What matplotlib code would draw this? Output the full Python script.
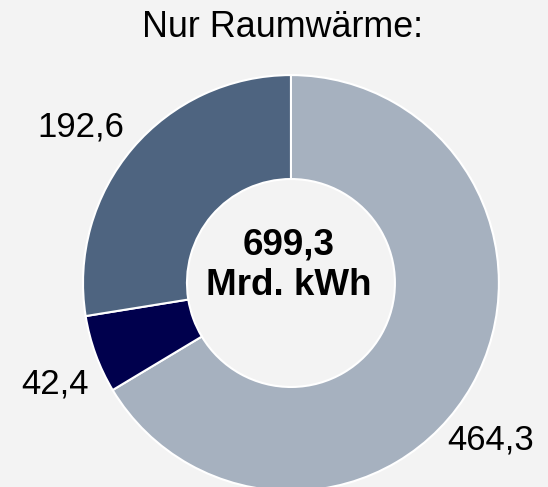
import matplotlib
matplotlib.use("Agg")
import matplotlib.pyplot as plt

plt.rcParams['font.family'] = ['Liberation Sans', 'DejaVu Sans']

# values in Mrd. kWh, clockwise from 12 o'clock
values = [464.3, 42.4, 192.6]
labels = ["464,3", "42,4", "192,6"]
colors = ["#a6b1bf", "#00004d", "#4e6480"]
total_label = "699,3\nMrd. kWh"
title = "Nur Raumwärme:"

bg = "#f3f3f3"
fig = plt.figure(figsize=(5.48, 4.87), dpi=100, facecolor=bg)
ax = fig.add_axes([0, 0, 1, 1])
ax.set_facecolor(bg)

ax.pie(values, colors=colors, startangle=90, counterclock=False, radius=1.0,
       wedgeprops=dict(width=0.5, edgecolor="white", linewidth=1.5))

# label positions (data coords, outer radius = 1)
label_pos = [(0.96, -0.755), (-1.135, -0.486), (-1.01, 0.75)]
for (x, y), txt in zip(label_pos, labels):
    ax.text(x, y, txt, ha="center", va="center", fontsize=25, color="black")

ax.text(-0.01, 0.085, total_label, ha="center", va="center", fontsize=26.5,
        fontweight="bold", linespacing=1.2)

ax.set_xlim(-1.399, 1.236)
ax.set_ylim(-0.981, 1.361)
ax.set_aspect("equal")
ax.axis("off")

fig.text(0.516, 0.943, title, ha="center", va="center", fontsize=25.8)

fig.savefig("out.png", dpi=100, facecolor=bg)
